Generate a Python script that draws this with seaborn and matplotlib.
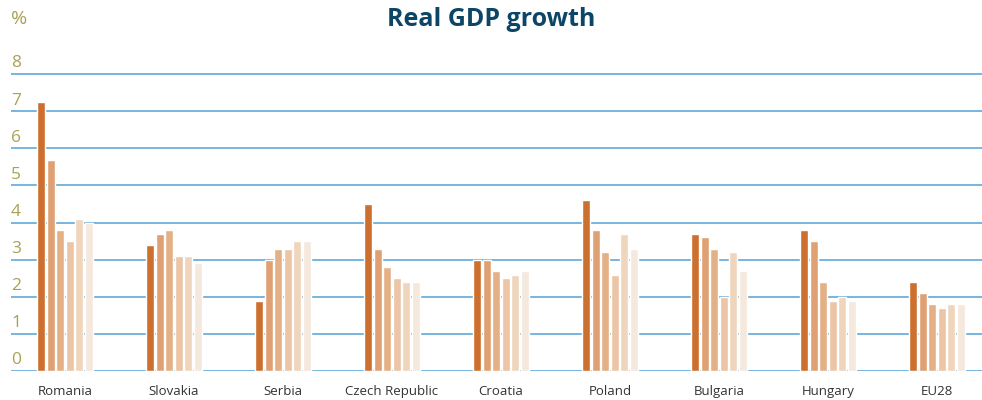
import matplotlib
matplotlib.use("Agg")
import matplotlib.pyplot as plt
import matplotlib.transforms as mtransforms
import pandas as pd
import seaborn as sns

# ------------------------------------------------------------
# data (real GDP growth, %)
# ------------------------------------------------------------
countries = ["Romania", "Slovakia", "Serbia", "Czech Republic", "Croatia",
             "Poland", "Bulgaria", "Hungary", "EU28"]
series = ["Series 1", "Series 2", "Series 3", "Series 4", "Series 5", "Series 6"]

s1 = [7.25, 3.4, 1.9, 4.5, 3.0, 4.6, 3.7, 3.8, 2.4]
s2 = [5.7, 3.7, 3.0, 3.3, 3.0, 3.8, 3.6, 3.5, 2.1]
s3 = [3.8, 3.8, 3.3, 2.8, 2.7, 3.2, 3.3, 2.4, 1.8]
s4 = [3.5, 3.1, 3.3, 2.5, 2.5, 2.6, 2.0, 1.9, 1.7]
s5 = [4.1, 3.1, 3.5, 2.4, 2.6, 3.7, 3.2, 2.0, 1.8]
s6 = [4.0, 2.9, 3.5, 2.4, 2.7, 3.3, 2.7, 1.9, 1.8]

colors = ["#CD702F", "#DFA173", "#E4B086", "#EBC5A6", "#F0D5BD", "#F5E8DD"]

rows = []
for name, vals in zip(series, [s1, s2, s3, s4, s5, s6]):
    for c, v in zip(countries, vals):
        rows.append({"country": c, "series": name, "growth": v})
df = pd.DataFrame(rows)

# ------------------------------------------------------------
# plot
# ------------------------------------------------------------
sns.set_style("white")
plt.rcParams["font.family"] = ["Open Sans", "DejaVu Sans"]

fig = plt.figure(figsize=(9.82, 4.0), dpi=100)
ax = fig.add_axes([0.0112, 0.0725, 0.9888, 0.7467])

sns.barplot(data=df, x="country", y="growth", hue="series",
            palette=colors, width=0.52, gap=0.15, legend=False,
            saturation=1, ax=ax, zorder=2)

ax.set_ylim(0, 8.05)
ax.set_xlim(-0.495, 8.413)
ax.set_yticks(range(0, 9))
ax.grid(axis="y", color="#3F97D3", linewidth=1.1, alpha=0.9, zorder=4)
for sp in ax.spines.values():
    sp.set_visible(False)

ax.set_xlabel("")
ax.set_ylabel("")
ax.tick_params(axis="x", length=0, pad=10, labelsize=9.5, labelcolor="#333333")
ax.tick_params(axis="y", length=0, pad=0, labelsize=12.5, labelcolor="#A9A154")

offset = mtransforms.ScaledTranslation(0, 2 / 72, fig.dpi_scale_trans)
for lab in ax.get_yticklabels():
    lab.set_horizontalalignment("left")
    lab.set_verticalalignment("bottom")
    lab.set_transform(lab.get_transform() + offset)

fig.text(0.5, 0.952, "Real GDP growth", ha="center", va="center",
         fontsize=18, fontweight="bold", color="#0D4566")
fig.text(0.011, 0.952, "%", ha="left", va="center",
         fontsize=14, color="#A9A154")

fig.savefig("out.png", dpi=100)
